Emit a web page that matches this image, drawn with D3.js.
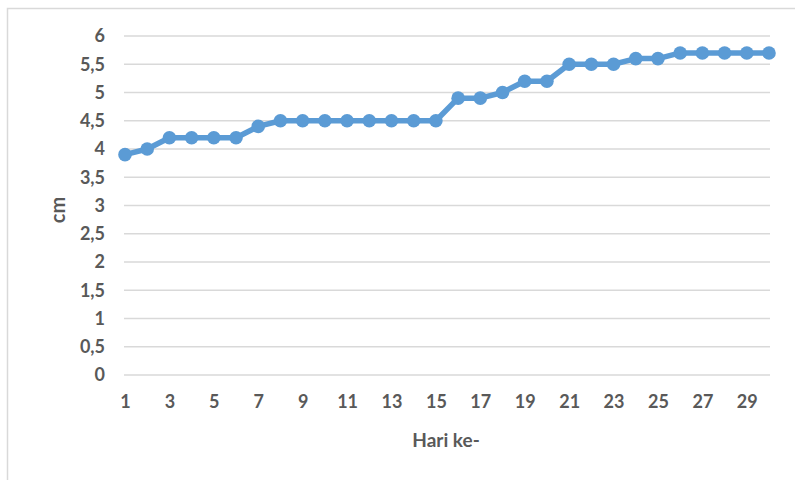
<!DOCTYPE html>
<html>
<head>
<meta charset="utf-8">
<script src="https://cdn.jsdelivr.net/npm/d3@7"></script>
<style>
  html, body { margin: 0; padding: 0; background: #fff; }
  svg { display: block; }
  text { font-family: Lato, "Open Sans", sans-serif; fill: #595959; font-weight: bold; }
</style>
</head>
<body>
<svg id="chart" width="795" height="480"></svg>
<script>
// Plant height per day
const days = d3.range(1, 31);
const heights = [3.9, 4.0, 4.2, 4.2, 4.2, 4.2, 4.4, 4.5, 4.5, 4.5,
                 4.5, 4.5, 4.5, 4.5, 4.5, 4.9, 4.9, 5.0, 5.2, 5.2,
                 5.5, 5.5, 5.5, 5.6, 5.6, 5.7, 5.7, 5.7, 5.7, 5.7];
const yTicks = [0, 0.5, 1, 1.5, 2, 2.5, 3, 3.5, 4, 4.5, 5, 5.5, 6];
const xTickLabels = days.filter(d => d % 2 === 1);
const xTitle = "Hari ke-";
const yTitle = "cm";

const svg = d3.select("#chart");
const blue = "#5B9BD5";

// outer chart frame
svg.append("rect")
  .attr("x", 7.5).attr("y", 8.5)
  .attr("width", 800).attr("height", 480)
  .attr("fill", "#fff").attr("stroke", "#d9d9d9").attr("stroke-width", 1.5);

const plot = { left: 124, right: 770, top: 36, bottom: 375 };

const x = d3.scalePoint().domain(days).range([plot.left + 1, plot.right - 1]);
const y = d3.scaleLinear().domain([0, 6]).range([plot.bottom, plot.top]);

// horizontal gridlines
svg.append("g")
  .selectAll("line").data(yTicks).join("line")
  .attr("x1", plot.left).attr("x2", plot.right)
  .attr("y1", d => y(d)).attr("y2", d => y(d))
  .attr("stroke", "#d9d9d9").attr("stroke-width", 1.5);

// y axis labels
const yAxis = d3.axisLeft(y).tickValues(yTicks)
  .tickFormat(d => String(d).replace(".", ","))
  .tickSize(0).tickPadding(0);
const gy = svg.append("g").attr("transform", `translate(${plot.left - 19},0)`).call(yAxis);
gy.select(".domain").remove();
gy.selectAll("text").attr("font-size", 18).attr("fill", "#595959")
  .attr("font-family", "Lato, sans-serif").attr("font-weight", "bold");

// x axis labels
const xAxis = d3.axisBottom(x).tickValues(xTickLabels).tickSize(0).tickPadding(0);
const gx = svg.append("g").attr("transform", `translate(0,${plot.bottom + 20})`).call(xAxis);
gx.select(".domain").remove();
gx.selectAll("text").attr("font-size", 18).attr("fill", "#595959")
  .attr("font-family", "Lato, sans-serif").attr("font-weight", "bold");

// axis titles
svg.append("text")
  .attr("x", 446).attr("y", 447)
  .attr("text-anchor", "middle").attr("font-size", 19)
  .text(xTitle);
svg.append("text")
  .attr("transform", "translate(65,210) rotate(-90)")
  .attr("text-anchor", "middle").attr("font-size", 20)
  .text(yTitle);

// series line and markers
const data = days.map((d, i) => ({ day: d, h: heights[i] }));
svg.append("path")
  .datum(data)
  .attr("fill", "none").attr("stroke", blue).attr("stroke-width", 5.5)
  .attr("stroke-linejoin", "round")
  .attr("d", d3.line().x(d => x(d.day)).y(d => y(d.h)));
svg.append("g")
  .selectAll("circle").data(data).join("circle")
  .attr("cx", d => x(d.day)).attr("cy", d => y(d.h))
  .attr("r", 6.8).attr("fill", blue);
</script>
</body>
</html>
